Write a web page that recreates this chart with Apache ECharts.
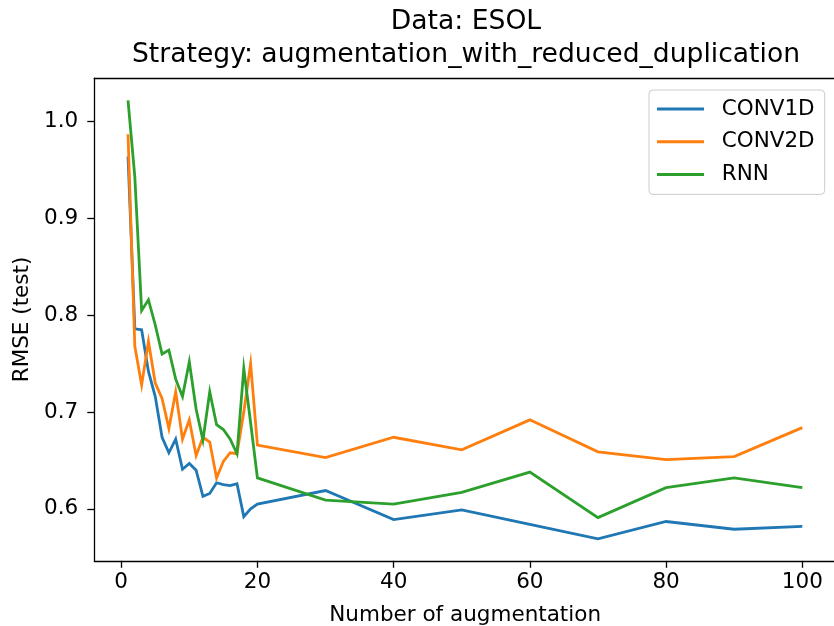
<!DOCTYPE html>
<html>
<head>
<meta charset="utf-8">
<script src="https://cdn.jsdelivr.net/npm/echarts@6/dist/echarts.min.js"></script>
<style>
html,body{margin:0;padding:0;background:#fff;}
#chart{width:834px;height:626px;}
</style>
</head>
<body>
<div id="chart"></div>
<script>
const augmentations = [1,2,3,4,5,6,7,8,9,10,11,12,13,14,15,16,17,18,19,20,30,40,50,60,70,80,90,100];
const conv1d = [0.964,0.786,0.785,0.742,0.716,0.674,0.658,0.672,0.641,0.647,0.640,0.613,0.616,0.627,0.625,0.624,0.626,0.592,0.600,0.605,0.619,0.589,0.599,0.584,0.569,0.587,0.579,0.582];
const conv2d = [0.987,0.768,0.728,0.773,0.730,0.714,0.683,0.721,0.672,0.692,0.655,0.674,0.669,0.632,0.649,0.658,0.657,0.700,0.750,0.666,0.653,0.674,0.661,0.692,0.659,0.651,0.654,0.684];
const rnn = [1.022,0.943,0.805,0.816,0.790,0.760,0.764,0.734,0.716,0.752,0.703,0.671,0.721,0.687,0.682,0.672,0.657,0.745,0.689,0.632,0.609,0.605,0.617,0.638,0.591,0.622,0.632,0.622];
const seriesNames = ['CONV1D','CONV2D','RNN'];
const xTicks = [0,20,40,60,80,100];
const yTicks = [0.6,0.7,0.8,0.9,1.0];
const titleLines = ['Data: ESOL','Strategy: augmentation_with_reduced_duplication'];
const xLabel = 'Number of augmentation';
const yLabel = 'RMSE (test)';

const FONT = 'DejaVu Sans';
const colors = ['#1f77b4','#ff7f0e','#2ca02c'];
const allValues = [conv1d, conv2d, rnn];

function pairs(xs, ys){ return xs.map((x,i)=>[x, ys[i]]); }

const chart = echarts.init(document.getElementById('chart'), null, {renderer:'canvas'});
chart.setOption({
  animation:false,
  backgroundColor:'#ffffff',
  textStyle:{fontFamily:FONT},
  graphic:[
    {type:'text', x:466, y:22, style:{text:titleLines[0], font:'26.6px "DejaVu Sans"', fill:'#000', textAlign:'center', textVerticalAlign:'middle'}},
    {type:'text', x:466, y:55, style:{text:titleLines[1], font:'26.6px "DejaVu Sans"', fill:'#000', textAlign:'center', textVerticalAlign:'middle'}}
  ],
  grid:{left:94.3, right:-2, top:78.2, bottom:65.2, show:false, containLabel:false, outerBoundsMode:'none'},
  legend:{
    orient:'vertical', left:649, top:90,
    padding:[8,10,9,8], itemGap:10.7, itemWidth:47, itemHeight:3, icon:'rect',
    backgroundColor:'rgba(255,255,255,0.8)', borderColor:'#cccccc', borderWidth:1, borderRadius:4,
    textStyle:{fontFamily:FONT, fontSize:21.5, color:'#000', lineHeight:22, padding:[0,0,0,12.7]},
    data:seriesNames
  },
  xAxis:[{
    type:'value', min:-3.95, max:104.95, position:'bottom',
    name:xLabel, nameLocation:'middle', nameGap:44,
    nameTextStyle:{fontFamily:FONT, fontSize:21.5, color:'#000'},
    axisLine:{show:true, onZero:false, lineStyle:{color:'#000', width:1.3}},
    axisTick:{show:true, length:7, inside:false, customValues:xTicks, lineStyle:{color:'#000', width:1.3}},
    axisLabel:{show:true, margin:11, customValues:xTicks, fontFamily:FONT, fontSize:21.5, color:'#000', formatter:v=>String(v)},
    splitLine:{show:false}
  },{
    type:'value', min:-3.95, max:104.95, position:'top',
    axisLine:{show:true, onZero:false, lineStyle:{color:'#000', width:1.3}},
    axisTick:{show:false}, axisLabel:{show:false}, splitLine:{show:false}
  }],
  yAxis:{
    type:'value', min:0.5464, max:1.0449,
    name:yLabel, nameLocation:'middle', nameGap:54, nameRotate:90,
    nameTextStyle:{fontFamily:FONT, fontSize:21.5, color:'#000'},
    axisLine:{show:true, onZero:false, lineStyle:{color:'#000', width:1.3}},
    axisTick:{show:true, length:7, inside:false, customValues:yTicks, lineStyle:{color:'#000', width:1.3}},
    axisLabel:{show:true, margin:16, customValues:yTicks, fontFamily:FONT, fontSize:21.5, color:'#000', formatter:v=>Number(v).toFixed(1)},
    splitLine:{show:false}
  },
  series: seriesNames.map((n,i)=>({
    name:n, type:'line', xAxisIndex:0, data:pairs(augmentations, allValues[i]),
    symbol:'none', showSymbol:false, smooth:false,
    color:colors[i], lineStyle:{color:colors[i], width:2.8, cap:'butt', join:'miter'},
    itemStyle:{color:colors[i]}
  }))
});
</script>
</body>
</html>
